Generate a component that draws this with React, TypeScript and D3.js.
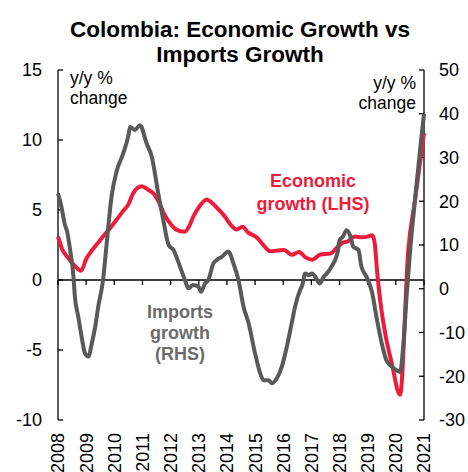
import React from "react";
import * as d3 from "d3";

const W = 468;
const H = 472;

const titleLines = ["Colombia: Economic Growth vs", "Imports Growth"];
const years = [2008, 2009, 2010, 2011, 2012, 2013, 2014, 2015, 2016, 2017, 2018, 2019, 2020, 2021];
const leftTicks = [-10, -5, 0, 5, 10, 15];
const rightTicks = [-30, -20, -10, 0, 10, 20, 30, 40, 50];

// Economic growth (LHS), y/y %
const econDates = [
  2008.0, 2008.15, 2008.35, 2008.6, 2008.82, 2009.0, 2009.2, 2009.4, 2009.6, 2009.85,
  2010.08, 2010.3, 2010.5, 2010.67, 2010.97, 2011.2, 2011.38, 2011.55, 2011.75, 2011.98,
  2012.2, 2012.5, 2012.65, 2012.8, 2013.04, 2013.28, 2013.45, 2013.65, 2013.9, 2014.2,
  2014.35, 2014.55, 2014.75, 2015.08, 2015.25, 2015.55, 2015.8, 2016.03, 2016.3, 2016.56,
  2016.8, 2017.03, 2017.3, 2017.69, 2017.9, 2018.1, 2018.28, 2018.55, 2018.8, 2019.0,
  2019.17, 2019.25, 2019.34, 2019.44, 2019.62, 2019.85, 2020.15, 2020.44, 2020.68, 2021.0,
];
const econValues = [
  3.1, 2.2, 1.6, 1.0, 0.66, 1.5, 2.1, 2.6, 3.1, 3.7,
  4.3, 4.9, 5.4, 6.2, 6.7, 6.45, 6.2, 5.7, 4.8, 4.05,
  3.6, 3.45, 3.8, 4.5, 5.3, 5.75, 5.55, 5.15, 4.6, 3.8,
  3.6, 3.8, 3.4, 3.0, 2.6, 2.05, 2.1, 2.15, 1.8, 2.0,
  1.6, 1.45, 1.8, 1.9, 2.3, 2.65, 2.75, 3.1, 3.05, 3.1,
  3.2, 2.6, 0.5, -1.4, -3.8, -5.9, -8.2, 2.1, 5.7, 10.5,
];

// Imports growth (RHS), y/y %
const importDates = [
  2008.0, 2008.13, 2008.25, 2008.32, 2008.43, 2008.55, 2008.6, 2008.72, 2008.84, 2008.96,
  2009.08, 2009.2, 2009.32, 2009.43, 2009.6, 2009.73, 2009.9, 2010.08, 2010.32, 2010.5,
  2010.56, 2010.73, 2010.91, 2011.15, 2011.33, 2011.56, 2011.74, 2011.93, 2012.1, 2012.27,
  2012.42, 2012.51, 2012.63, 2012.8, 2012.98, 2013.08, 2013.22, 2013.34, 2013.52, 2013.64,
  2013.82, 2014.05, 2014.23, 2014.41, 2014.59, 2014.77, 2015.0, 2015.18, 2015.3, 2015.48,
  2015.59, 2015.77, 2015.95, 2016.13, 2016.3, 2016.42, 2016.6, 2016.68, 2016.78, 2016.9,
  2017.02, 2017.14, 2017.3, 2017.44, 2017.55, 2017.71, 2017.95, 2018.0, 2018.12, 2018.25,
  2018.37, 2018.49, 2018.67, 2018.78, 2018.96, 2019.15, 2019.33, 2019.5, 2019.66, 2019.85,
  2020.02, 2020.15, 2020.27, 2020.39, 2020.51, 2020.68, 2020.86, 2021.0,
];
const importValues = [
  21.8, 18.5, 14.5, 13.2, 8.9, 2.75, -1.8, -6.4, -11, -14.8,
  -15.5, -12.5, -8.7, -4.1, 2.0, 10.4, 21, 26.8, 31, 35,
  37, 36.3, 37.4, 33.2, 30.2, 21.8, 15.7, 10, 8.9, 6.2,
  3.5, 2.0, 0.1, 0.86, 0.5, -0.7, 1.2, 2.0, 5.8, 6.6,
  7.3, 8.5, 5.8, 2.0, -4.1, -7.9, -14.8, -19.3, -20.9, -20.9,
  -21.6, -20.5, -17.8, -13.2, -7.9, -4.1, -0.3, 0.86, 3.5, 3.1,
  3.5, 2.75, 1.2, 2.75, 3.5, 5.0, 8.9, 11.1, 11.9, 13.4,
  12.3, 9.6, 8.9, 5.0, 2.75, -0.7, -7.1, -12.5, -16.3, -17.8,
  -18.6, -19.0, -12.5, -1.0, 8.9, 20.3, 31.7, 40,
];

const RED = "#EB1C3C";
const GREY = "#595959";
const FONT = "'Liberation Sans', Arial, sans-serif";

export default function App() {
  const x = d3.scaleLinear().domain([2008, 2021]).range([58, 424]);
  const yL = d3.scaleLinear().domain([-10, 15]).range([420, 70]);
  const yR = d3.scaleLinear().domain([-30, 50]).range([420, 70]);

  const econLine = d3
    .line<number>()
    .x((d, i) => x(econDates[i]))
    .y((d) => yL(d))
    .curve(d3.curveMonotoneX);
  const importLine = d3
    .line<number>()
    .x((d, i) => x(importDates[i]))
    .y((d) => yR(d))
    .curve(d3.curveMonotoneX);

  const x0 = x.range()[0];
  const x1 = x.range()[1];
  const zeroY = yL(0);

  return (
    <svg
      width={W}
      height={H}
      style={{ position: "fixed", left: 0, top: 0, background: "#fff" }}
      fontFamily={FONT}
    >
      <rect width={W} height={H} fill="#fff" />
      {titleLines.map((t, i) => (
        <text
          key={t}
          x={240}
          y={37 + i * 25}
          textAnchor="middle"
          fontSize={22.5}
          fontWeight="bold"
          fill="#000"
        >
          {t}
        </text>
      ))}

      {/* left axis */}
      <line x1={x0} x2={x0} y1={yL(15)} y2={yL(-10)} stroke="#000" strokeWidth={1.3} />
      {leftTicks.map((t) => (
        <g key={"l" + t}>
          <line x1={x0} x2={x0 + 5} y1={yL(t)} y2={yL(t)} stroke="#000" strokeWidth={1.3} />
          <text x={42} y={yL(t)} dy="0.36em" textAnchor="end" fontSize={18} fill="#000">
            {t}
          </text>
        </g>
      ))}

      {/* right axis */}
      <line x1={x1} x2={x1} y1={yR(50)} y2={yR(-30)} stroke="#000" strokeWidth={1.3} />
      {rightTicks.map((t) => (
        <g key={"r" + t}>
          <line x1={x1 - 5} x2={x1} y1={yR(t)} y2={yR(t)} stroke="#000" strokeWidth={1.3} />
          <text x={439} y={yR(t)} dy="0.36em" textAnchor="start" fontSize={18} fill="#000">
            {t}
          </text>
        </g>
      ))}

      {/* x axis */}
      <line x1={x0} x2={x1} y1={zeroY} y2={zeroY} stroke="#000" strokeWidth={1.3} />
      {years.map((yr) => (
        <g key={"x" + yr}>
          <line x1={x(yr)} x2={x(yr)} y1={zeroY} y2={zeroY + 5} stroke="#000" strokeWidth={1.3} />
          <text
            transform={`translate(${x(yr)},433) rotate(-90)`}
            dy="0.36em"
            textAnchor="end"
            fontSize={18}
            fill="#000"
          >
            {yr}
          </text>
        </g>
      ))}

      {/* series */}
      <path d={econLine(econValues) || ""} fill="none" stroke={RED} strokeWidth={4} strokeLinejoin="round" />
      <path d={importLine(importValues) || ""} fill="none" stroke={GREY} strokeWidth={4} strokeLinejoin="round" />

      {/* unit annotations */}
      <text x={70} y={84} fontSize={17.5} fill="#000">y/y %</text>
      <text x={70} y={104} fontSize={17.5} fill="#000">change</text>
      <text x={416} y={89} fontSize={17.5} fill="#000" textAnchor="end">y/y %</text>
      <text x={416} y={109} fontSize={17.5} fill="#000" textAnchor="end">change</text>

      {/* series labels */}
      <text x={313} y={187} fontSize={18} fontWeight="bold" fill={RED} textAnchor="middle">Economic</text>
      <text x={313} y={210} fontSize={18} fontWeight="bold" fill={RED} textAnchor="middle">growth (LHS)</text>
      <text x={180} y={318} fontSize={18} fontWeight="bold" fill="#6b6b6b" textAnchor="middle">Imports</text>
      <text x={180} y={339} fontSize={18} fontWeight="bold" fill="#6b6b6b" textAnchor="middle">growth</text>
      <text x={180} y={360} fontSize={18} fontWeight="bold" fill="#6b6b6b" textAnchor="middle">(RHS)</text>
    </svg>
  );
}
